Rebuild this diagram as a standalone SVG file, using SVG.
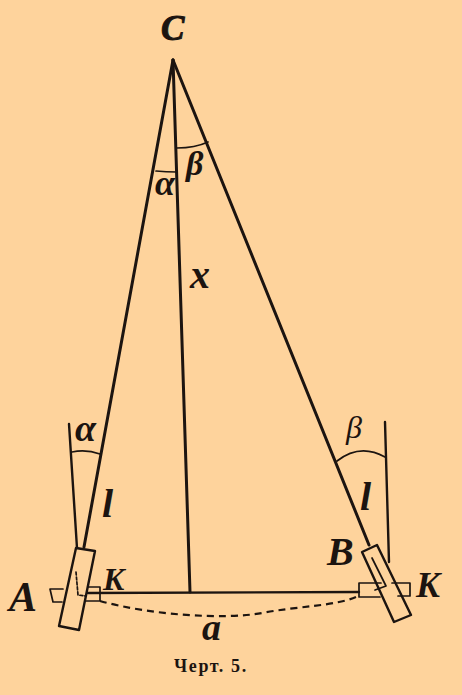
<svg xmlns="http://www.w3.org/2000/svg" width="462" height="695" viewBox="0 0 462 695">
<style>
.l{fill:none;stroke:#1c1410;stroke-linecap:round;stroke-linejoin:round}
.h{stroke-width:3}
.m{stroke-width:2.4}
.t{stroke-width:1.7}
.d{stroke-width:2.2;stroke-dasharray:7 5;stroke-linecap:butt}
text{fill:#1c1410;font-family:"Liberation Serif",serif;font-weight:bold;font-style:italic}
</style>
<rect width="462" height="695" fill="#fed39c"/>
<g id="connectors">
<path class="l h" d="M173 60L84 547"/>
<path class="l h" d="M173 60L190 592"/>
<path class="l h" d="M173 60L369 545"/>
<path class="l m" d="M69 424L77 548"/>
<path class="l m" d="M385 422L389 562"/>
<path class="l m" d="M88 593L359 592"/>
<path class="l d" d="M100 601C150 615 225 620 262 613S335 606 356 597"/>
<path class="l t" d="M72 452Q86 449 100 454"/>
<path class="l t" d="M337 461Q360 443 385 457"/>
<path class="l t" d="M156 171Q166 172 177 172"/>
<path class="l t" d="M177 148Q195 148 208 142"/>
</g>
<g id="block-a">
<path class="l m" d="M76 548L95 551L79 630L59 626Z"/>
<path class="l t" d="M63 589H50L53 602H62M88 587H100V601H86"/>
<path class="l t" stroke-dasharray="3 2" d="M76 572L78 595L85 596"/>
</g>
<g id="block-b">
<path class="l m" d="M362 552L377 545L411 615L394 622Z"/>
<path class="l t" d="M372 558L386 586L375 590"/>
<path class="l t" d="M392 583H410V596H398M381 583H359V597H380"/>
</g>
<g id="label-c"><text x="161" y="40" font-size="35" stroke="#1c1410" stroke-width="1">C</text></g>
<g id="label-alpha-top"><text x="155" y="195" font-size="36">α</text></g>
<g id="label-beta-top"><text x="186" y="175" font-size="34">β</text></g>
<g id="label-x"><text x="190" y="288" font-size="40">x</text></g>
<g id="label-alpha"><text x="75" y="441" font-size="38">α</text></g>
<g id="label-beta"><text x="346" y="438" font-size="32" style="font-weight:normal">β</text></g>
<g id="label-l-left"><text x="102" y="517" font-size="40">l</text></g>
<g id="label-l-right"><text x="360" y="510" font-size="40">l</text></g>
<g id="label-a"><text x="9" y="611" font-size="42">A</text></g>
<g id="label-b"><text x="327" y="565" font-size="40">B</text></g>
<g id="label-k-left"><text x="103" y="590" font-size="32">K</text></g>
<g id="label-k-right"><text x="416" y="597" font-size="36">K</text></g>
<g id="label-a2"><text x="202" y="640" font-size="38">a</text></g>
<g id="caption"><text x="174" y="672" font-size="18" style="font-style:normal;letter-spacing:1.6px">Черт. 5.</text></g>
</svg>
